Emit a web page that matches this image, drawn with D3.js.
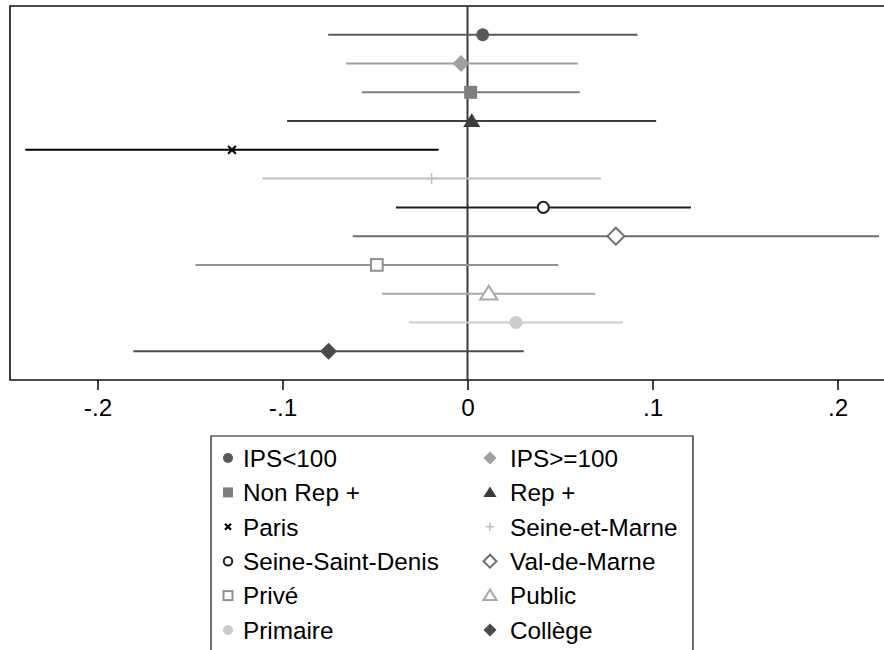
<!DOCTYPE html>
<html>
<head>
<meta charset="utf-8">
<script src="https://d3js.org/d3.v7.min.js"></script>
<style>
  body { margin: 0; background: #fff; }
  svg { font-family: "Liberation Sans", Arial, sans-serif; }
</style>
</head>
<body>
<script>
// coefficient estimates with 95% CI, top row first
var labels = ["IPS<100", "IPS>=100", "Non Rep +", "Rep +", "Paris", "Seine-et-Marne",
              "Seine-Saint-Denis", "Val-de-Marne", "Privé", "Public", "Primaire", "Collège"];
var estimates = [0.0082, -0.0035, 0.0017, 0.0023, -0.1273, -0.0194, 0.0410, 0.0802, -0.0490, 0.0115, 0.0262, -0.0751];
var lower     = [-0.0753, -0.0657, -0.0571, -0.0975, -0.2390, -0.1107, -0.0387, -0.0620, -0.1470, -0.0463, -0.0317, -0.1806];
var upper     = [0.0919, 0.0596, 0.0607, 0.1020, -0.0156, 0.0722, 0.1208, 0.2225, 0.0491, 0.0690, 0.0840, 0.0304];
var tickVals  = [-0.2, -0.1, 0, 0.1, 0.2];
var tickLabels = ["-.2", "-.1", "0", ".1", ".2"];

var colors  = ["#5a5a5a", "#a0a0a0", "#7f7f7f", "#3c3c3c", "#000000", "#c0c0c0",
               "#1e1e1e", "#6e6e6e", "#919191", "#aaaaaa", "#cccccc", "#4a4a4a"];
var shapes  = ["circle", "diamond", "square", "triangle", "x", "plus",
               "circleO", "diamondO", "squareO", "triangleO", "circle", "diamond"];

var W = 884, H = 650;
var box = {left: 10, top: 6, right: 925, bottom: 380};
var fontSize = 24.3;

var svg = d3.select("body").append("svg")
    .attr("width", W)
    .attr("height", H);

var x = d3.scaleLinear().domain([-0.2, 0.2]).range([97.5, 837.5]);
var y = d3.scalePoint().domain(labels).range([box.top, box.bottom]).padding(1);

// draws a marker of given shape centred at 0,0
function marker(g, shape, size, color) {
    var s = size;
    if (shape == "circle") {
        g.append("circle").attr("r", s).attr("fill", color);
    } else if (shape == "circleO") {
        g.append("circle").attr("r", s * 0.85).attr("fill", "#fff")
            .attr("stroke", color).attr("stroke-width", 2);
    } else if (shape == "square") {
        g.append("rect").attr("x", -s).attr("y", -s).attr("width", 2 * s).attr("height", 2 * s)
            .attr("fill", color);
    } else if (shape == "squareO") {
        g.append("rect").attr("x", -s * 0.9).attr("y", -s * 0.9).attr("width", 1.8 * s).attr("height", 1.8 * s)
            .attr("fill", "#fff").attr("stroke", color).attr("stroke-width", 2);
    } else if (shape == "diamond" || shape == "diamondO") {
        var d = s * 1.3;
        var p = g.append("path").attr("d", "M0," + (-d) + "L" + d + ",0L0," + d + "L" + (-d) + ",0Z");
        if (shape == "diamond") p.attr("fill", color);
        else p.attr("fill", "#fff").attr("stroke", color).attr("stroke-width", 2);
    } else if (shape == "triangle" || shape == "triangleO") {
        var t = s * 1.2;
        var p2 = g.append("path").attr("d", "M0," + (-t) + "L" + (t * 1.1) + "," + (t * 0.75) + "L" + (-t * 1.1) + "," + (t * 0.75) + "Z");
        if (shape == "triangle") p2.attr("fill", color);
        else p2.attr("fill", "#fff").attr("stroke", color).attr("stroke-width", 2);
    } else if (shape == "x") {
        var k = s * 0.6;
        g.append("path").attr("d", "M" + (-k) + "," + (-k) + "L" + k + "," + k + "M" + (-k) + "," + k + "L" + k + "," + (-k))
            .attr("stroke", color).attr("stroke-width", 2.2);
    } else if (shape == "plus") {
        var q = s * 0.85;
        g.append("path").attr("d", "M" + (-q) + ",0L" + q + ",0M0," + (-q) + "L0," + q)
            .attr("stroke", color).attr("stroke-width", 1.5);
    }
}

// plot frame
svg.append("path")
    .attr("d", "M" + box.right + "," + box.top + "L" + box.left + "," + box.top +
               "L" + box.left + "," + box.bottom + "L" + box.right + "," + box.bottom)
    .attr("fill", "none")
    .attr("stroke", "#111")
    .attr("stroke-width", 1.6);

// zero line
svg.append("line")
    .attr("x1", x(0)).attr("x2", x(0))
    .attr("y1", box.top).attr("y2", box.bottom)
    .attr("stroke", "#3a3a3a")
    .attr("stroke-width", 2);

// x axis
var axis = d3.axisBottom(x)
    .tickValues(tickVals)
    .tickFormat(function(d, i) { return tickLabels[i]; })
    .tickSize(10)
    .tickPadding(9);

var ax = svg.append("g")
    .attr("transform", "translate(0," + box.bottom + ")")
    .call(axis);
ax.select(".domain").remove();
ax.selectAll(".tick line").attr("stroke", "#111").attr("stroke-width", 1.6);
ax.selectAll(".tick text")
    .attr("font-size", fontSize)
    .attr("font-family", "Liberation Sans, Arial, sans-serif")
    .attr("fill", "#000");

// CI lines and markers
var rows = svg.selectAll("g.row")
    .data(labels)
    .enter()
    .append("g")
    .attr("class", "row");

rows.append("line")
    .attr("x1", function(d, i) { return x(lower[i]); })
    .attr("x2", function(d, i) { return x(upper[i]); })
    .attr("y1", function(d) { return y(d); })
    .attr("y2", function(d) { return y(d); })
    .attr("stroke", function(d, i) { return colors[i]; })
    .attr("stroke-width", 2);

rows.each(function(d, i) {
    var g = d3.select(this).append("g")
        .attr("transform", "translate(" + x(estimates[i]) + "," + y(d) + ")");
    marker(g, shapes[i], 6.5, colors[i]);
});

// legend
var leg = {left: 211, top: 436, right: 693, rowH: 34.4, firstY: 458};
svg.append("path")
    .attr("d", "M" + leg.left + "," + (H + 5) + "L" + leg.left + "," + leg.top +
               "L" + leg.right + "," + leg.top + "L" + leg.right + "," + (H + 5))
    .attr("fill", "none")
    .attr("stroke", "#111")
    .attr("stroke-width", 1.2);

var items = svg.selectAll("g.leg")
    .data(labels)
    .enter()
    .append("g")
    .attr("class", "leg")
    .attr("transform", function(d, i) {
        var col = i % 2, row = Math.floor(i / 2);
        return "translate(" + (col == 0 ? 228 : 490) + "," + (leg.firstY + row * leg.rowH) + ")";
    });

items.each(function(d, i) {
    marker(d3.select(this), shapes[i], 5, colors[i]);
});

items.append("text")
    .attr("x", function(d, i) { return i % 2 == 0 ? 15 : 20; })
    .attr("y", 8.7)
    .attr("font-size", fontSize)
    .attr("fill", "#000")
    .text(function(d) { return d; });
</script>
</body>
</html>
